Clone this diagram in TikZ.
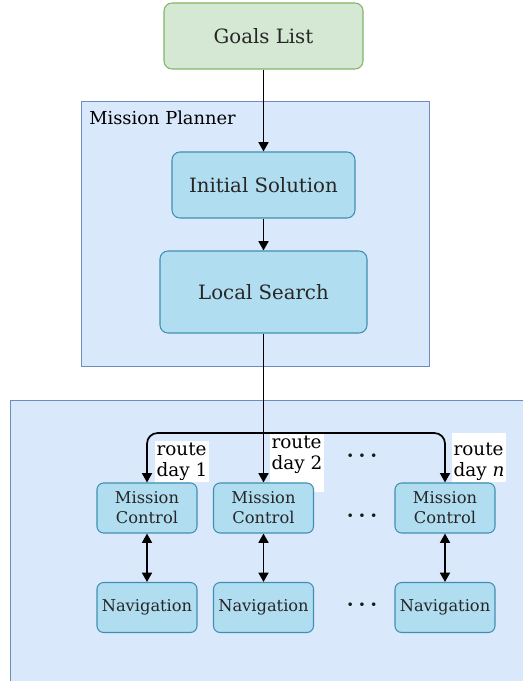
\documentclass[tikz,border=0pt]{standalone}
\usepackage{fontspec}
\setmainfont{DejaVu Serif}
\usetikzlibrary{arrows.meta}
\definecolor{grfill}{HTML}{D5E8D4}
\definecolor{grline}{HTML}{82B366}
\definecolor{blfill}{HTML}{DAE8FC}
\definecolor{blline}{HTML}{6C8EBF}
\definecolor{cyfill}{HTML}{B1DDF0}
\definecolor{cyline}{HTML}{10739E}
\tikzset{
  px/.style={x=0.75pt,y=-0.75pt},
  goalbox/.style={draw=grline,fill=grfill,rounded corners=6pt,line width=0.8pt,font=\fontsize{14.8}{17}\selectfont,text=black!85},
  groupbox/.style={draw=blline,fill=blfill,line width=0.8pt},
  procbox/.style={draw=cyline!80,fill=cyfill,rounded corners=6pt,line width=0.8pt,font=\fontsize{14.8}{17}\selectfont,text=black!85},
  smallbox/.style={draw=cyline!80,fill=cyfill,rounded corners=5pt,line width=0.8pt,font=\fontsize{12.2}{15}\selectfont,text=black!85,align=center,inner sep=1pt},
  flow/.style={-{Triangle[width=7.5pt,length=7pt]},line width=1.3pt},
  twoway/.style={{Triangle[width=7.5pt,length=7pt]}-{Triangle[width=7.5pt,length=7pt]},line width=1.3pt},
  routelbl/.style={fill=white,inner sep=1pt,align=left,font=\fontsize{13.8}{15.8}\selectfont},
  dotlbl/.style={font=\fontsize{16}{18}\selectfont\boldmath,text=black!90,inner sep=0pt}
}
\begin{document}
\begin{tikzpicture}[px]
\useasboundingbox (0,0) rectangle (523,681);
% group frames
\node[groupbox,minimum width=348*0.75pt,minimum height=265*0.75pt,anchor=north west] (planner) at (81,101) {};
\node[anchor=north west,inner sep=0pt,font=\fontsize{13.4}{15}\selectfont] (plannerlbl) at (89,111) {Mission Planner};
\node[groupbox,minimum width=520*0.75pt,minimum height=286*0.75pt,anchor=north west] (execution) at (10,400) {};
% planning chain
\node[goalbox,minimum width=199*0.75pt,minimum height=66*0.75pt] (goals) at (263.5,36) {Goals List};
\node[procbox,minimum width=183*0.75pt,minimum height=66*0.75pt] (init) at (263.5,185) {Initial Solution};
\node[procbox,minimum width=207*0.75pt,minimum height=82*0.75pt] (local) at (263.5,292) {Local Search};
\draw[flow] (goals) -- (init);
\draw[flow] (init) -- (local);
% route labels (behind the controller boxes)
\node[routelbl,anchor=south west] (r1) at (155,482) {route\\day 1};
\node[routelbl,anchor=north west] (r2) at (270,434) {route\\day 2\\\mbox{}};
\node[routelbl,anchor=south west] (r3) at (452,482) {\mbox{}\\route\\day \textit{n}};
% per-day controllers
\foreach \n/\x in {1/147,2/263.5,3/445}{
  \node[smallbox,minimum width=100*0.75pt,minimum height=50*0.75pt] (mc\n) at (\x,508) {Mission\\Control};
  \node[smallbox,minimum width=100*0.75pt,minimum height=50*0.75pt] (nav\n) at (\x,607.5) {Navigation};
  \draw[twoway] (mc\n) -- (nav\n);
}
% distribution of routes
\coordinate (split) at (263.5,433);
\draw[line width=1.3pt] (local) -- (split);
\draw[flow,rounded corners=8pt] (split) -| (mc1);
\draw[flow,rounded corners=8pt] (split) -| (mc3);
\draw[flow] (split) -- (mc2);
% ellipses
\node[dotlbl,anchor=base] (d1) at (362,461) {$\cdots$};
\node[dotlbl,anchor=base] (d2) at (362,521) {$\cdots$};
\node[dotlbl,anchor=base] (d3) at (362,610) {$\cdots$};
\end{tikzpicture}
\end{document}
